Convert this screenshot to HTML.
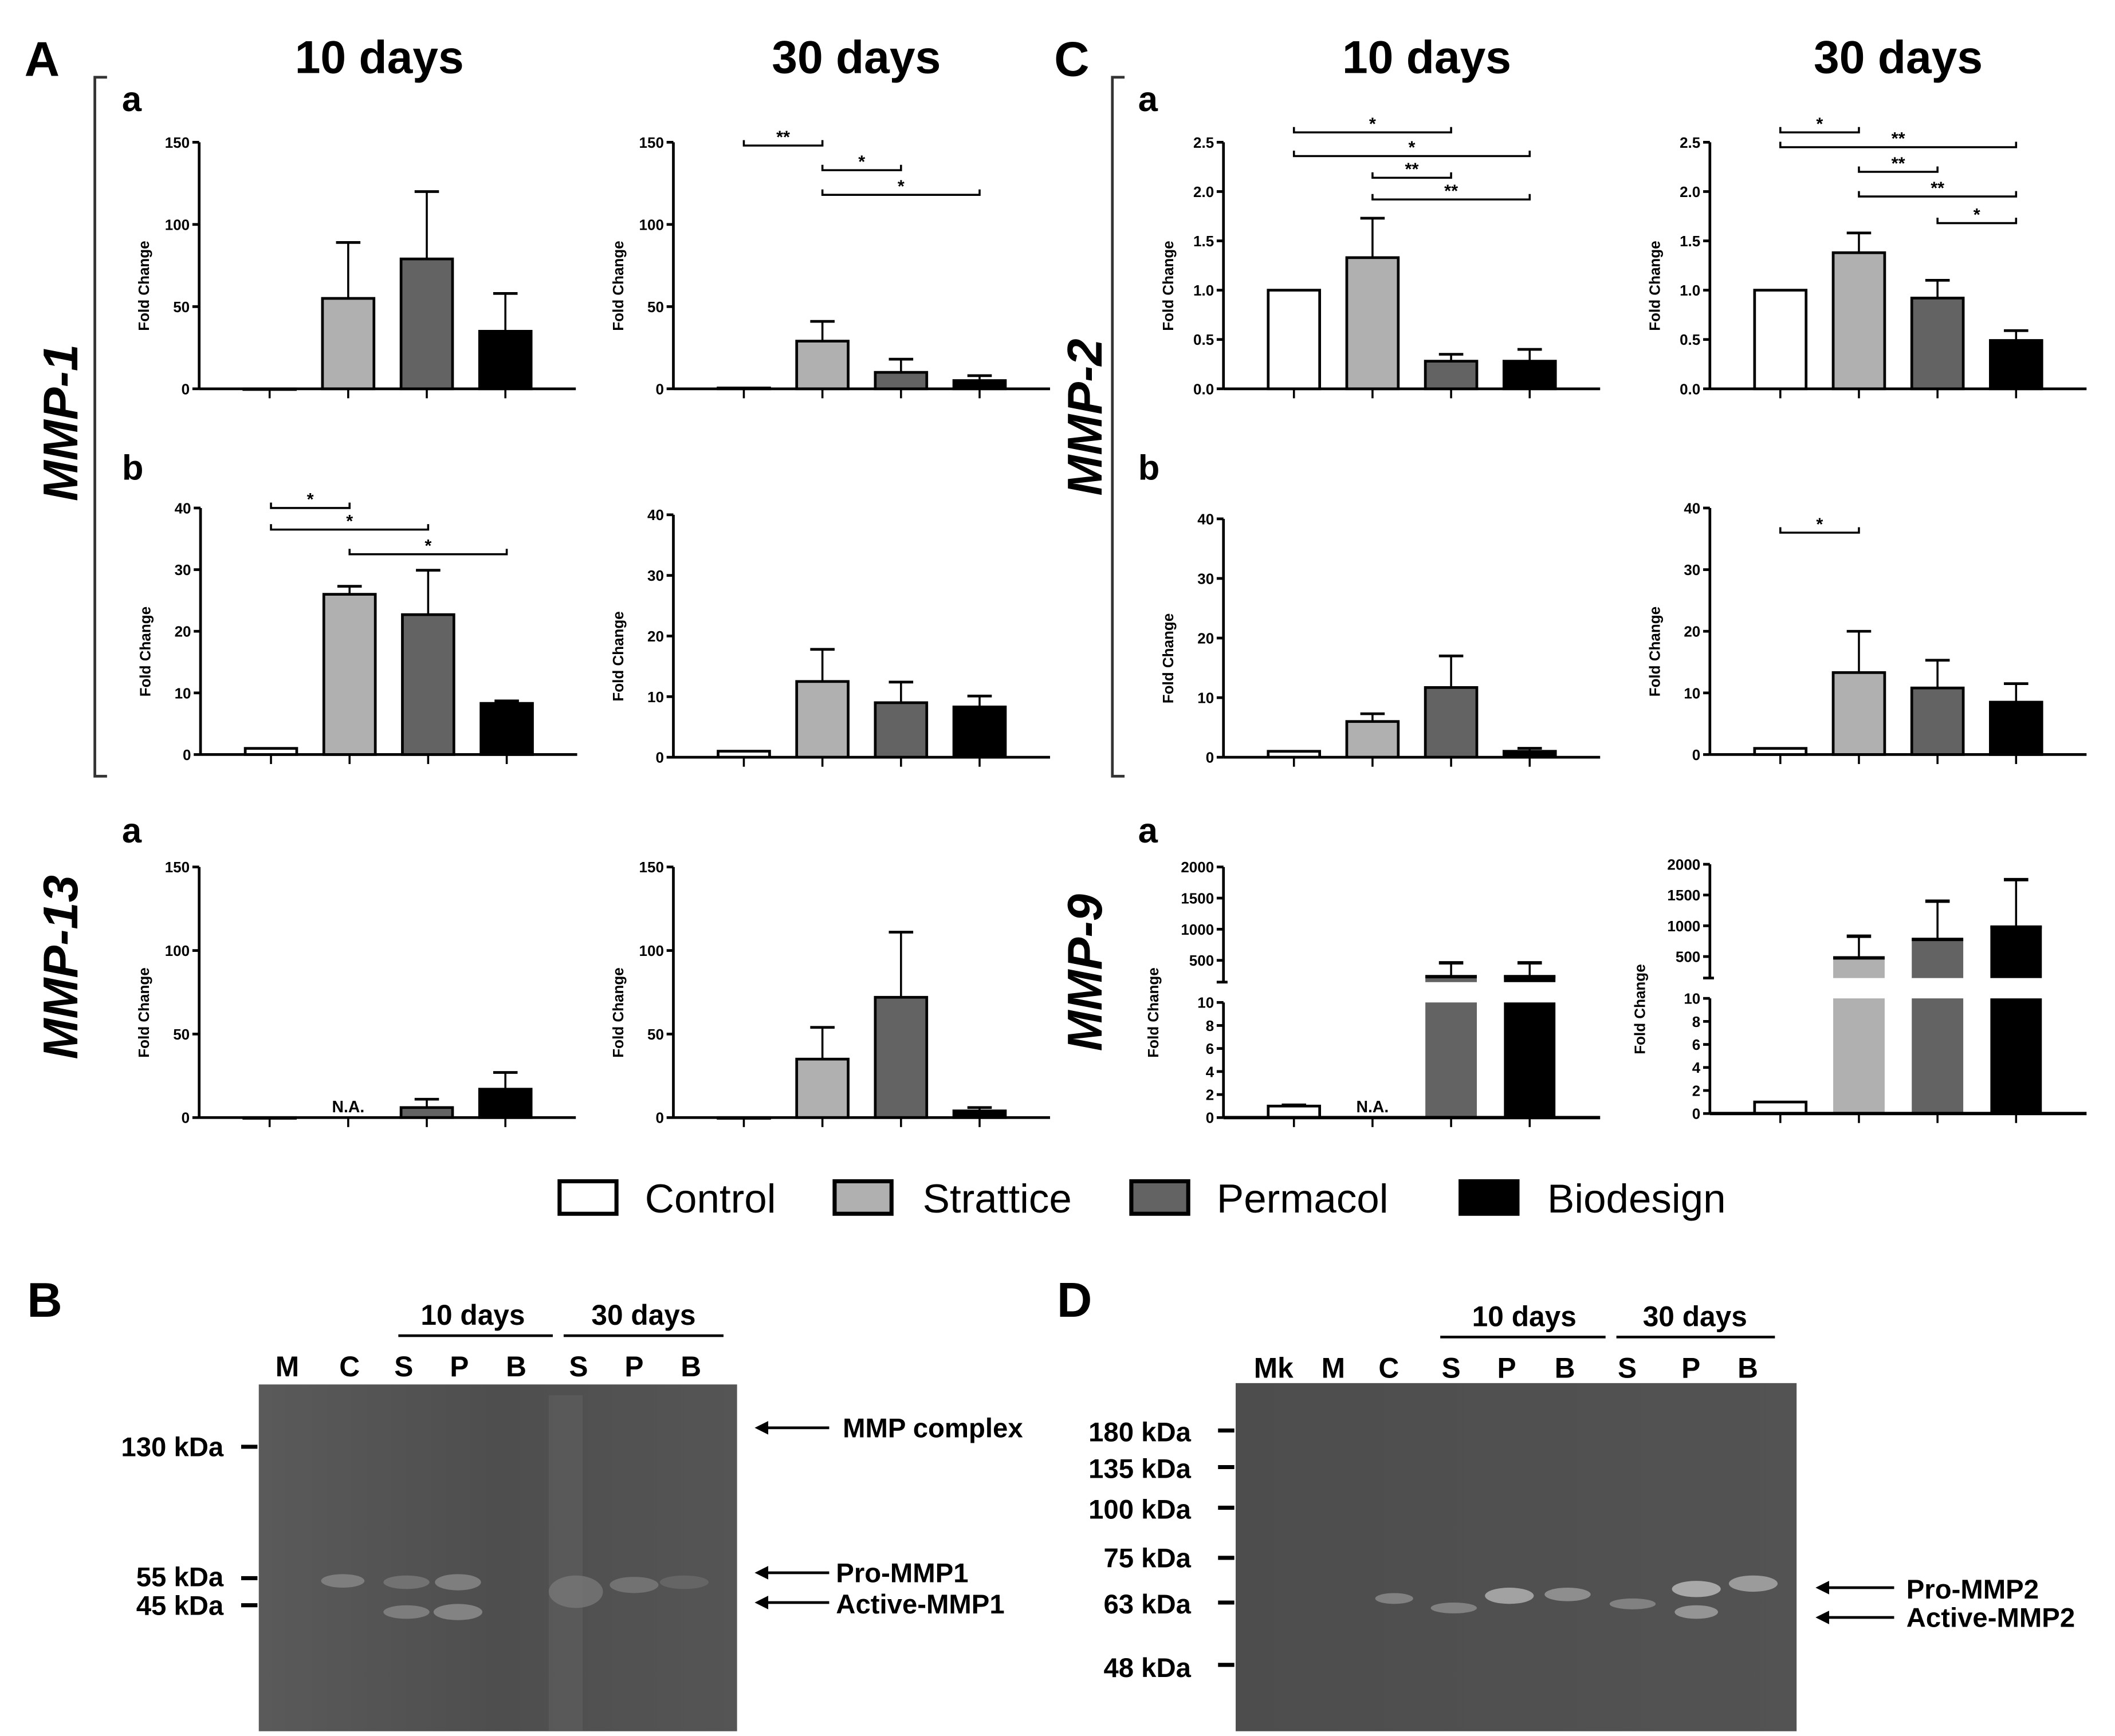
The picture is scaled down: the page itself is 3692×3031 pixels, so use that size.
<!DOCTYPE html>
<html><head><meta charset="utf-8"><style>
html,body{margin:0;padding:0;background:#fff}
svg{display:block}
text{font-family:"Liberation Sans",sans-serif}
</style></head><body>
<svg id="fig" width="3692" height="3031" viewBox="0 0 1561 1281.5" xmlns="http://www.w3.org/2000/svg">
<g font-weight="bold">
<text x="18" y="56" font-size="36">A</text>
<text x="280" y="54" font-size="34" text-anchor="middle">10 days</text>
<text x="632" y="54" font-size="34" text-anchor="middle">30 days</text>
<text x="778" y="56" font-size="36">C</text>
<text x="1053" y="54" font-size="34" text-anchor="middle">10 days</text>
<text x="1401" y="54" font-size="34" text-anchor="middle">30 days</text>
<text x="90" y="82" font-size="26">a</text>
<text x="90" y="354" font-size="26">b</text>
<text x="90" y="622" font-size="26">a</text>
<text x="840" y="82" font-size="26">a</text>
<text x="840" y="354" font-size="26">b</text>
<text x="840" y="622" font-size="26">a</text>
<g font-style="italic" font-size="36">
<text transform="translate(57,312) rotate(-90)" text-anchor="middle">MMP-1</text>
<text transform="translate(57,714) rotate(-90)" text-anchor="middle">MMP-13</text>
<text transform="translate(813,308) rotate(-90)" text-anchor="middle">MMP-2</text>
<text transform="translate(813,718) rotate(-90)" text-anchor="middle">MMP-9</text>
</g>
<path d="M79,57 H70 V573 H79" fill="none" stroke="#333" stroke-width="2"/>
<path d="M830,57 H821 V573 H830" fill="none" stroke="#333" stroke-width="2"/>
</g>
<g id="charts"></g>
<g font-size="30">
<rect x="413" y="872" width="42" height="24" fill="#fff" stroke="#000" stroke-width="3"/>
<text x="476" y="895">Control</text>
<rect x="616" y="872" width="42" height="24" fill="#b0b0b0" stroke="#000" stroke-width="3"/>
<text x="681" y="895">Strattice</text>
<rect x="835" y="872" width="42" height="24" fill="#636363" stroke="#000" stroke-width="3"/>
<text x="898" y="895">Permacol</text>
<rect x="1078" y="872" width="42" height="24" fill="#000" stroke="#000" stroke-width="3"/>
<text x="1142" y="895">Biodesign</text>
</g>
<defs>
<linearGradient id="gB" x1="0" x2="1"><stop offset="0" stop-color="#5a5a5a"/><stop offset="0.5" stop-color="#4e4e4e"/><stop offset="1" stop-color="#555"/></linearGradient>
<linearGradient id="gD" x1="0" x2="1"><stop offset="0" stop-color="#4d4d4d"/><stop offset="1" stop-color="#535353"/></linearGradient>
</defs>
<g font-weight="bold">
<text x="20" y="972" font-size="36">B</text>
<text x="349" y="978" font-size="21" text-anchor="middle">10 days</text>
<line x1="294" y1="986" x2="408" y2="986" stroke="#000" stroke-width="2"/>
<text x="475" y="978" font-size="21" text-anchor="middle">30 days</text>
<line x1="416" y1="986" x2="534" y2="986" stroke="#000" stroke-width="2"/>
<g font-size="21" text-anchor="middle"><text x="212" y="1016">M</text><text x="258" y="1016">C</text><text x="298" y="1016">S</text><text x="339" y="1016">P</text><text x="381" y="1016">B</text><text x="427" y="1016">S</text><text x="468" y="1016">P</text><text x="510" y="1016">B</text></g>
<rect x="191" y="1022" width="353" height="256" fill="url(#gB)"/>
<rect x="405" y="1030" width="25" height="248" fill="#666" opacity="0.4"/>
<g opacity="0.8"><ellipse cx="253" cy="1167" rx="16" ry="5" fill="#888"/><ellipse cx="300" cy="1168" rx="17" ry="5" fill="#7a7a7a"/><ellipse cx="338" cy="1168" rx="17" ry="6" fill="#8a8a8a"/>
<ellipse cx="300" cy="1190" rx="17" ry="5" fill="#888"/><ellipse cx="338" cy="1190" rx="18" ry="6" fill="#909090"/><ellipse cx="425" cy="1175" rx="20" ry="12" fill="#777"/><ellipse cx="468" cy="1170" rx="18" ry="6" fill="#7a7a7a"/><ellipse cx="505" cy="1168" rx="18" ry="5" fill="#6a6a6a"/></g>
<g font-size="20" text-anchor="end"><text x="165" y="1075">130 kDa</text><text x="165" y="1171">55 kDa</text><text x="165" y="1192">45 kDa</text></g>
<g stroke="#000" stroke-width="3"><line x1="178" y1="1068" x2="190" y2="1068"/><line x1="178" y1="1165" x2="190" y2="1165"/><line x1="178" y1="1185" x2="190" y2="1185"/></g>
<g stroke="#000" stroke-width="2"><line x1="560" y1="1054" x2="612" y2="1054"/><line x1="560" y1="1161" x2="612" y2="1161"/><line x1="560" y1="1183" x2="612" y2="1183"/></g>
<g fill="#000"><path d="M557,1054 l10,-5 v10z"/><path d="M557,1161 l10,-5 v10z"/><path d="M557,1183 l10,-5 v10z"/></g>
<g font-size="20"><text x="622" y="1061">MMP complex</text><text x="617" y="1168">Pro-MMP1</text><text x="617" y="1191">Active-MMP1</text></g>
</g>
<g font-weight="bold">
<text x="780" y="972" font-size="36">D</text>
<text x="1125" y="979" font-size="21" text-anchor="middle">10 days</text>
<line x1="1063" y1="987" x2="1185" y2="987" stroke="#000" stroke-width="2"/>
<text x="1251" y="979" font-size="21" text-anchor="middle">30 days</text>
<line x1="1193" y1="987" x2="1310" y2="987" stroke="#000" stroke-width="2"/>
<g font-size="21" text-anchor="middle"><text x="940" y="1017">Mk</text><text x="984" y="1017">M</text><text x="1025" y="1017">C</text><text x="1071" y="1017">S</text><text x="1112" y="1017">P</text><text x="1155" y="1017">B</text><text x="1201" y="1017">S</text><text x="1248" y="1017">P</text><text x="1290" y="1017">B</text></g>
<rect x="912" y="1021" width="414" height="257" fill="url(#gD)"/>
<g opacity="0.85"><ellipse cx="1029" cy="1180" rx="14" ry="4" fill="#8a8a8a"/><ellipse cx="1073" cy="1187" rx="17" ry="4" fill="#8a8a8a"/><ellipse cx="1114" cy="1178" rx="18" ry="6" fill="#b0b0b0"/><ellipse cx="1157" cy="1177" rx="17" ry="5" fill="#999"/><ellipse cx="1205" cy="1184" rx="17" ry="4" fill="#8a8a8a"/><ellipse cx="1252" cy="1173" rx="18" ry="6" fill="#b8b8b8"/><ellipse cx="1252" cy="1190" rx="16" ry="5" fill="#a0a0a0"/><ellipse cx="1294" cy="1169" rx="18" ry="6" fill="#a8a8a8"/></g>
<g font-size="20" text-anchor="end"><text x="879" y="1064">180 kDa</text><text x="879" y="1091">135 kDa</text><text x="879" y="1121">100 kDa</text><text x="879" y="1157">75 kDa</text><text x="879" y="1191">63 kDa</text><text x="879" y="1238">48 kDa</text></g>
<g stroke="#000" stroke-width="3"><line x1="899" y1="1056" x2="911" y2="1056"/><line x1="899" y1="1083" x2="911" y2="1083"/><line x1="899" y1="1113" x2="911" y2="1113"/><line x1="899" y1="1150" x2="911" y2="1150"/><line x1="899" y1="1183" x2="911" y2="1183"/><line x1="899" y1="1229" x2="911" y2="1229"/></g>
<g stroke="#000" stroke-width="2"><line x1="1343" y1="1172" x2="1398" y2="1172"/><line x1="1343" y1="1194" x2="1398" y2="1194"/></g>
<g fill="#000"><path d="M1340,1172 l10,-5 v10z"/><path d="M1340,1194 l10,-5 v10z"/></g>
<g font-size="20"><text x="1407" y="1180">Pro-MMP2</text><text x="1407" y="1201">Active-MMP2</text></g>
</g>
</svg>
<script>
const colors=['#ffffff','#b0b0b0','#636363','#000000'];
// MMP-1 a
const a1_10_vals=[0,55,79,35]; const a1_10_err=[0,34,41,23];
const a1_30_vals=[0.5,29,10,5]; const a1_30_err=[0,12,8,3];
// MMP-1 b
const b1_10_vals=[1,26,22.7,8.3]; const b1_10_err=[0,1.3,7.2,0.4];
const b1_30_vals=[1,12.5,9,8.3]; const b1_30_err=[0,5.3,3.4,1.8];
// MMP-13
const m13_10_vals=[0,null,6,17]; const m13_10_err=[0,0,5,10];
const m13_30_vals=[0,35,72,4]; const m13_30_err=[0,19,39,2];
// MMP-2 a
const c2a_10_vals=[1,1.33,0.28,0.28]; const c2a_10_err=[0,0.4,0.07,0.12];
const c2a_30_vals=[1,1.38,0.92,0.49]; const c2a_30_err=[0,0.2,0.18,0.1];
// MMP-2 b
const c2b_10_vals=[1,6,11.7,1]; const c2b_10_err=[0,1.3,5.3,0.5];
const c2b_30_vals=[1,13.3,10.8,8.5]; const c2b_30_err=[0,6.7,4.5,3];
// MMP-9
const m9_10_vals=[1,null,260,260]; const m9_10_err=[0.1,0,200,200];
const m9_30_vals=[1,500,800,1000]; const m9_30_err=[0,330,600,750];
// ticks
const ticks150=[0,50,100,150]; const ticks40=[0,10,20,30,40];
const ticks25=[0,0.5,1.0,1.5,2.0,2.5];
const ticks9low=[0,2,4,6,8,10]; const ticks9high=[500,1000,1500,2000];
// significance brackets [from,to,value,label]
const sig_a1_30=[[0,1,148,'**'],[1,2,133,'*'],[1,3,118,'*']];
const sig_b1_10=[[0,1,40,'*'],[0,2,36.5,'*'],[1,3,32.5,'*']];
const sig_c2a_10=[[0,2,2.6,'*'],[0,3,2.36,'*'],[1,2,2.14,'**'],[1,3,1.92,'**']];
const sig_c2a_30=[[0,1,2.6,'*'],[0,3,2.45,'**'],[1,2,2.2,'**'],[1,3,1.95,'**'],[2,3,1.68,'*']];
const sig_c2b_30=[[0,1,36,'*']];

const NS='http://www.w3.org/2000/svg';
const root=document.getElementById('charts');
function mk(tag,attrs,parent){const e=document.createElementNS(NS,tag);for(const k in attrs)e.setAttribute(k,attrs[k]);parent.appendChild(e);return e;}

function chart(name,x0,yTop,yBot,max,ticks,vals,errs,sig,fmt){
  const g=mk('g',{},root);
  
  
  const y=v=>yBot-(v/max)*(yBot-yTop);
  const cx=i=>x0+52+i*58;
  const xEnd=x0+278;
  mk('line',{x1:x0,y1:yTop,x2:x0,y2:yBot,stroke:'#000','stroke-width':2},g);
  ticks.forEach(t=>{
    mk('line',{x1:x0-5,y1:y(t),x2:x0,y2:y(t),stroke:'#000','stroke-width':2},g);
    const tx=mk('text',{x:x0-7,y:y(t)+4,'font-size':11,'font-weight':'bold','text-anchor':'end'},g);
    tx.textContent=fmt?fmt(t):t;
    
    
  });
  const yt=mk('text',{transform:`translate(${x0-37},${(yTop+yBot)/2+15}) rotate(-90)`,'font-size':11,'font-weight':'bold','text-anchor':'middle'},g);
  yt.textContent='Fold Change';
  
  
  vals.forEach((v,i)=>{
    mk('line',{x1:cx(i),y1:yBot,x2:cx(i),y2:yBot+7,stroke:'#000','stroke-width':1.5},g);
    if(v===null){const t=mk('text',{x:cx(i),y:yBot-4,'font-size':12,'font-weight':'bold','text-anchor':'middle'},g);t.textContent='N.A.';
      return;}
    if(errs[i]>0){
      mk('line',{x1:cx(i),y1:y(v),x2:cx(i),y2:y(v+errs[i]),stroke:'#000','stroke-width':1.5},g);
      mk('line',{x1:cx(i)-9,y1:y(v+errs[i]),x2:cx(i)+9,y2:y(v+errs[i]),stroke:'#000','stroke-width':2},g);
    }
    const b=mk('rect',{x:cx(i)-19,y:y(v),width:38,height:Math.max(yBot-y(v),0.5),fill:colors[i],stroke:'#000','stroke-width':2},g);
    
    
  });
  mk('line',{x1:x0,y1:yBot,x2:xEnd,y2:yBot,stroke:'#000','stroke-width':2},g);
  (sig||[]).forEach(s=>{
    const yy=y(s[2]);
    mk('path',{d:`M${cx(s[0])},${yy-4}V${yy}H${cx(s[1])}V${yy-4}`,fill:'none',stroke:'#000','stroke-width':1.5},g);
    const t=mk('text',{x:(cx(s[0])+cx(s[1]))/2,y:yy-2,'font-size':13,'font-weight':'bold','text-anchor':'middle'},g);
    t.textContent=s[3];
    
    
  });
}
const f1=t=>t.toFixed(1);
chart('mmp1-a-10d',147,105,287,150,ticks150,a1_10_vals,a1_10_err);
chart('mmp1-a-30d',497,105,287,150,ticks150,a1_30_vals,a1_30_err,sig_a1_30);
chart('mmp1-b-10d',148,375,557,40,ticks40,b1_10_vals,b1_10_err,sig_b1_10);
chart('mmp1-b-30d',497,380,559,40,ticks40,b1_30_vals,b1_30_err);
chart('mmp13-10d',147,640,825,150,ticks150,m13_10_vals,m13_10_err);
chart('mmp13-30d',497,640,825,150,ticks150,m13_30_vals,m13_30_err);
chart('mmp2-a-10d',903,105,287,2.5,ticks25,c2a_10_vals,c2a_10_err,sig_c2a_10,f1);
chart('mmp2-a-30d',1262,105,287,2.5,ticks25,c2a_30_vals,c2a_30_err,sig_c2a_30,f1);
chart('mmp2-b-10d',903,383,559,40,ticks40,c2b_10_vals,c2b_10_err);
chart('mmp2-b-30d',1262,375,557,40,ticks40,c2b_30_vals,c2b_30_err,sig_c2b_30);

function brokenChart(name,x0,yTop,yBrk,yLowTop,yBot,vals,errs){
  const g=mk('g',{},root);
  
  
  const low=v=>yBot-(v/10)*(yBot-yLowTop);
  const hiMin=150;
  const hi=v=>yBrk-((v-hiMin)/(2000-hiMin))*(yBrk-yTop);
  const cx=i=>x0+52+i*58;
  mk('line',{x1:x0,y1:yTop,x2:x0,y2:yBrk,stroke:'#000','stroke-width':2},g);
  mk('line',{x1:x0-5,y1:yBrk,x2:x0+3,y2:yBrk,stroke:'#000','stroke-width':2},g);
  mk('line',{x1:x0,y1:yLowTop,x2:x0,y2:yBot,stroke:'#000','stroke-width':2},g);
  ticks9high.forEach(t=>{mk('line',{x1:x0-5,y1:hi(t),x2:x0,y2:hi(t),stroke:'#000','stroke-width':2},g);
    const tx=mk('text',{x:x0-7,y:hi(t)+4,'font-size':11,'font-weight':'bold','text-anchor':'end'},g);tx.textContent=t;
    });
  ticks9low.forEach(t=>{mk('line',{x1:x0-5,y1:low(t),x2:x0,y2:low(t),stroke:'#000','stroke-width':2},g);
    const tx=mk('text',{x:x0-7,y:low(t)+4,'font-size':11,'font-weight':'bold','text-anchor':'end'},g);tx.textContent=t;
    });
  const yt=mk('text',{transform:`translate(${x0-48},${(yTop+yBot)/2+15}) rotate(-90)`,'font-size':11,'font-weight':'bold','text-anchor':'middle'},g);
  yt.textContent='Fold Change';
  
  
  vals.forEach((v,i)=>{
    mk('line',{x1:cx(i),y1:yBot,x2:cx(i),y2:yBot+7,stroke:'#000','stroke-width':1.5},g);
    if(v===null){const t=mk('text',{x:cx(i),y:yBot-4,'font-size':12,'font-weight':'bold','text-anchor':'middle'},g);t.textContent='N.A.';
      return;}
    if(v<=10){
      if(errs[i]>0){mk('line',{x1:cx(i)-9,y1:low(v+errs[i]),x2:cx(i)+9,y2:low(v+errs[i]),stroke:'#000','stroke-width':2},g);}
      const b=mk('rect',{x:cx(i)-19,y:low(v),width:38,height:yBot-low(v),fill:colors[i],stroke:'#000','stroke-width':2},g);
      
    } else {
      const b=mk('rect',{x:cx(i)-19,y:yLowTop,width:38,height:yBot-yLowTop,fill:colors[i]},g);
      
      mk('line',{x1:cx(i),y1:hi(v),x2:cx(i),y2:hi(v+errs[i]),stroke:'#000','stroke-width':1.5},g);
      mk('line',{x1:cx(i)-9,y1:hi(v+errs[i]),x2:cx(i)+9,y2:hi(v+errs[i]),stroke:'#000','stroke-width':2.5},g);
      const u=mk('rect',{x:cx(i)-19,y:hi(v),width:38,height:yBrk-hi(v),fill:colors[i]},g);
      
      mk('line',{x1:cx(i)-19,y1:hi(v)+1,x2:cx(i)+19,y2:hi(v)+1,stroke:'#000','stroke-width':2.5},g);
    }
  });
  mk('line',{x1:x0,y1:yBot,x2:x0+278,y2:yBot,stroke:'#000','stroke-width':2.5},g);
}
brokenChart('mmp9-10d',903,640,725,740,825,m9_10_vals,m9_10_err);
brokenChart('mmp9-30d',1262,638,722,737,822,m9_30_vals,m9_30_err);
</script>
</body></html>
